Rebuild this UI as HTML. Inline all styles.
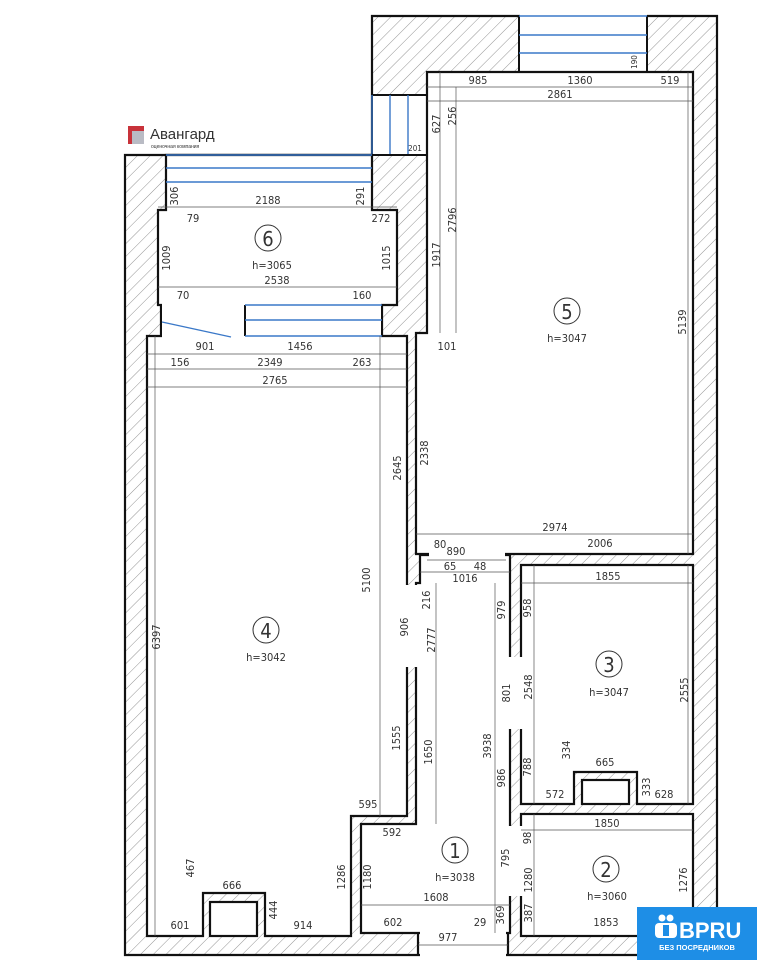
<!DOCTYPE html>
<html><head><meta charset="utf-8"><style>
html,body{margin:0;padding:0;background:#fff;}
svg{display:block}
text{font-family:"DejaVu Sans Condensed","DejaVu Sans","Liberation Sans",sans-serif;fill:#333;}
.d{font-size:11px;}
.dim{stroke:#555;stroke-width:0.7;fill:none}
.w{fill:#fff;stroke:#111;stroke-width:2.2}
.g{fill:#fff;stroke:none}
.b{stroke:#3a78c8;stroke-width:1.4}
</style></head><body>
<svg width="757" height="960" viewBox="0 0 757 960" xmlns="http://www.w3.org/2000/svg">
<defs>
<pattern id="h" patternUnits="userSpaceOnUse" width="9" height="9" patternTransform="rotate(45)">
<rect width="9" height="9" fill="#fff"/><line x1="0" y1="0" x2="0" y2="9" stroke="#888" stroke-width="0.9"/>
</pattern>
</defs>
<rect width="757" height="960" fill="#fff"/>
<polygon points="125,155 372,155 372,16 717,16 717,955 125,955" fill="url(#h)" stroke="#111" stroke-width="2.2"/>
<rect class="g" x="520" y="14" width="127" height="59"/>
<line x1="519" y1="16" x2="519" y2="72" stroke="#111" stroke-width="2"/>
<line x1="647" y1="16" x2="647" y2="72" stroke="#111" stroke-width="2"/>
<line class="b" x1="519" y1="16" x2="647" y2="16"/>
<line class="b" x1="519" y1="35" x2="647" y2="35"/>
<line class="b" x1="519" y1="53" x2="647" y2="53"/>
<rect class="g" x="373" y="95" width="53" height="59"/>
<line x1="372" y1="95" x2="427" y2="95" stroke="#111" stroke-width="2"/>
<line class="b" x1="372" y1="95" x2="372" y2="155"/>
<line class="b" x1="390" y1="95" x2="390" y2="155"/>
<line class="b" x1="408" y1="95" x2="408" y2="155"/>
<line x1="372" y1="155" x2="427" y2="155" stroke="#111" stroke-width="2"/>
<line x1="427" y1="72" x2="427" y2="95" stroke="#111" stroke-width="2"/>
<polygon class="w" points="166,155 372,155 372,210 397,210 397,305 382,305 382,336 407,336 407,816 351,816 351,936 265,936 265,893 203,893 203,936 147,936 147,336 161,336 161,305 158,305 158,210 166,210"/>
<polygon class="w" points="427,72 693,72 693,554 416,554 416,333 427,333"/>
<polygon class="w" points="420,555 510,555 510,933 418,933 361,933 361,824 416,824 416,583 420,583"/>
<polygon class="w" points="521,565 693,565 693,804 637,804 637,772 574,772 574,804 521,804"/>
<rect class="w" x="521" y="814" width="172" height="122"/>
<rect class="w" x="210" y="902" width="47" height="34" stroke-width="2"/>
<rect class="w" x="582" y="780" width="47" height="24" stroke-width="2"/>
<rect class="g" x="162" y="300" width="219" height="40"/>
<rect class="g" x="404" y="585" width="15" height="82"/>
<rect class="g" x="508" y="657" width="15" height="72"/>
<rect class="g" x="508" y="826" width="15" height="70"/>
<rect class="g" x="429" y="550" width="76" height="8"/>
<rect class="g" x="420" y="931" width="86" height="28"/>
<line x1="418" y1="933" x2="418" y2="955" stroke="#111" stroke-width="2.2"/>
<line x1="508" y1="933" x2="508" y2="955" stroke="#111" stroke-width="2.2"/>
<line x1="148" y1="336" x2="161" y2="336" stroke="#111" stroke-width="2"/>
<line x1="161" y1="305" x2="161" y2="336" stroke="#111" stroke-width="2"/>
<line x1="382" y1="305" x2="382" y2="336" stroke="#111" stroke-width="2"/>
<line x1="245" y1="305" x2="245" y2="336" stroke="#111" stroke-width="2"/>
<line class="b" x1="245" y1="305" x2="382" y2="305"/>
<line class="b" x1="245" y1="320" x2="382" y2="320"/>
<line class="b" x1="245" y1="336" x2="382" y2="336"/>
<line class="b" x1="162" y1="322" x2="231" y2="337"/>
<line class="b" x1="166" y1="168" x2="372" y2="168"/>
<line class="b" x1="166" y1="182" x2="372" y2="182"/>
<line class="b" x1="166" y1="155" x2="372" y2="155"/>
<g class="dim">
<line x1="427" y1="87" x2="693" y2="87"/><line x1="427" y1="101" x2="693" y2="101"/>
<line x1="440" y1="72" x2="440" y2="333"/><line x1="456" y1="87" x2="456" y2="333"/>
<line x1="158" y1="207" x2="397" y2="207"/><line x1="158" y1="287" x2="397" y2="287"/>
<line x1="147" y1="354" x2="407" y2="354"/><line x1="147" y1="369" x2="407" y2="369"/><line x1="147" y1="387" x2="407" y2="387"/>
<line x1="155" y1="336" x2="155" y2="936"/><line x1="380" y1="336" x2="380" y2="816"/>
<line x1="416" y1="534" x2="693" y2="534"/><line x1="427" y1="560" x2="506" y2="560"/><line x1="420" y1="572" x2="510" y2="572"/>
<line x1="521" y1="583" x2="693" y2="583"/><line x1="688" y1="72" x2="688" y2="554"/><line x1="688" y1="565" x2="688" y2="804"/>
<line x1="436" y1="583" x2="436" y2="824"/><line x1="495" y1="583" x2="495" y2="933"/>
<line x1="521" y1="830" x2="693" y2="830"/><line x1="361" y1="905" x2="510" y2="905"/><line x1="418" y1="945" x2="508" y2="945"/>
<line x1="534" y1="565" x2="534" y2="804"/><line x1="534" y1="814" x2="534" y2="936"/>
</g>
<g class="d" text-anchor="middle">
<text x="478" y="84">985</text><text x="580" y="84">1360</text><text x="670" y="84">519</text><text x="560" y="98">2861</text>
<text x="193" y="222">79</text><text x="268" y="204">2188</text><text x="381" y="222">272</text>
<text x="277" y="284">2538</text><text x="183" y="299">70</text><text x="362" y="299">160</text>
<text x="205" y="350">901</text><text x="300" y="350">1456</text><text x="180" y="366">156</text><text x="270" y="366">2349</text><text x="362" y="366">263</text><text x="275" y="384">2765</text>
<text x="447" y="350">101</text><text x="555" y="531">2974</text><text x="440" y="548">80</text><text x="456" y="555">890</text><text x="600" y="547">2006</text>
<text x="450" y="570">65</text><text x="480" y="570">48</text><text x="465" y="582">1016</text><text x="608" y="580">1855</text>
<text x="605" y="766">665</text><text x="555" y="798">572</text><text x="664" y="798">628</text><text x="368" y="808">595</text><text x="392" y="836">592</text>
<text x="607" y="827">1850</text><text x="436" y="901">1608</text><text x="232" y="889">666</text>
<text x="180" y="929">601</text><text x="303" y="929">914</text><text x="393" y="926">602</text><text x="480" y="926">29</text><text x="606" y="926">1853</text><text x="448" y="941">977</text>
<text x="415" y="151" font-size="8" fill="#777">201</text>
</g>
<g class="d" text-anchor="middle">
<text transform="translate(637,62) rotate(-90)" font-size="8" fill="#777">190</text>
<text transform="translate(440,124) rotate(-90)">627</text>
<text transform="translate(456,116) rotate(-90)">256</text>
<text transform="translate(456,220) rotate(-90)">2796</text>
<text transform="translate(440,255) rotate(-90)">1917</text>
<text transform="translate(686,322) rotate(-90)">5139</text>
<text transform="translate(178,196) rotate(-90)">306</text>
<text transform="translate(364,196) rotate(-90)">291</text>
<text transform="translate(170,258) rotate(-90)">1009</text>
<text transform="translate(390,258) rotate(-90)">1015</text>
<text transform="translate(401,468) rotate(-90)">2645</text>
<text transform="translate(428,453) rotate(-90)">2338</text>
<text transform="translate(370,580) rotate(-90)">5100</text>
<text transform="translate(160,637) rotate(-90)">6397</text>
<text transform="translate(430,600) rotate(-90)">216</text>
<text transform="translate(505,610) rotate(-90)">979</text>
<text transform="translate(531,608) rotate(-90)">958</text>
<text transform="translate(408,627) rotate(-90)">906</text>
<text transform="translate(435,640) rotate(-90)">2777</text>
<text transform="translate(688,690) rotate(-90)">2555</text>
<text transform="translate(510,693) rotate(-90)">801</text>
<text transform="translate(532,687) rotate(-90)">2548</text>
<text transform="translate(491,746) rotate(-90)">3938</text>
<text transform="translate(400,738) rotate(-90)">1555</text>
<text transform="translate(432,752) rotate(-90)">1650</text>
<text transform="translate(505,778) rotate(-90)">986</text>
<text transform="translate(531,767) rotate(-90)">788</text>
<text transform="translate(570,750) rotate(-90)">334</text>
<text transform="translate(650,787) rotate(-90)">333</text>
<text transform="translate(531,838) rotate(-90)">98</text>
<text transform="translate(509,858) rotate(-90)">795</text>
<text transform="translate(532,880) rotate(-90)">1280</text>
<text transform="translate(687,880) rotate(-90)">1276</text>
<text transform="translate(194,868) rotate(-90)">467</text>
<text transform="translate(345,877) rotate(-90)">1286</text>
<text transform="translate(371,877) rotate(-90)">1180</text>
<text transform="translate(277,910) rotate(-90)">444</text>
<text transform="translate(504,915) rotate(-90)">369</text>
<text transform="translate(532,913) rotate(-90)">387</text>
</g>
<g text-anchor="middle">
<circle cx="268" cy="238" r="13" fill="#fff" stroke="#333"/><text x="268" y="246" font-size="20">6</text><text x="272" y="269" class="d">h=3065</text>
<circle cx="567" cy="311" r="13" fill="#fff" stroke="#333"/><text x="567" y="319" font-size="20">5</text><text x="567" y="342" class="d">h=3047</text>
<circle cx="266" cy="630" r="13" fill="#fff" stroke="#333"/><text x="266" y="638" font-size="20">4</text><text x="266" y="661" class="d">h=3042</text>
<circle cx="609" cy="664" r="13" fill="#fff" stroke="#333"/><text x="609" y="672" font-size="20">3</text><text x="609" y="696" class="d">h=3047</text>
<circle cx="455" cy="850" r="13" fill="#fff" stroke="#333"/><text x="455" y="858" font-size="20">1</text><text x="455" y="881" class="d">h=3038</text>
<circle cx="606" cy="869" r="13" fill="#fff" stroke="#333"/><text x="606" y="877" font-size="20">2</text><text x="607" y="900" class="d">h=3060</text>
</g>
<rect x="128" y="126" width="16" height="18" fill="#c8323a"/><rect x="132" y="131" width="12" height="13" fill="#b9bbc4"/>
<text x="150" y="139" font-size="15" fill="#555" style="font-family:'Liberation Sans',sans-serif">Авангард</text>
<text x="151" y="148" font-size="5" fill="#888" style="font-family:'Liberation Sans',sans-serif">оценочная компания</text>
<rect x="637" y="907" width="120" height="53" fill="#1e8ee6"/>
<circle cx="662" cy="918" r="3.5" fill="#fff"/><circle cx="670" cy="918" r="3.5" fill="#fff"/>
<rect x="655" y="923" width="22" height="15" rx="4" fill="#fff"/><rect x="663" y="925" width="6" height="11" fill="#1e8ee6"/>
<text x="679" y="938" font-size="22" font-weight="bold" style="font-family:'Liberation Sans',sans-serif;fill:#fff">BPRU</text>
<text x="697" y="950" font-size="7.5" text-anchor="middle" font-weight="bold" style="font-family:'Liberation Sans',sans-serif;fill:#fff">БЕЗ ПОСРЕДНИКОВ</text>
</svg>
</body></html>
